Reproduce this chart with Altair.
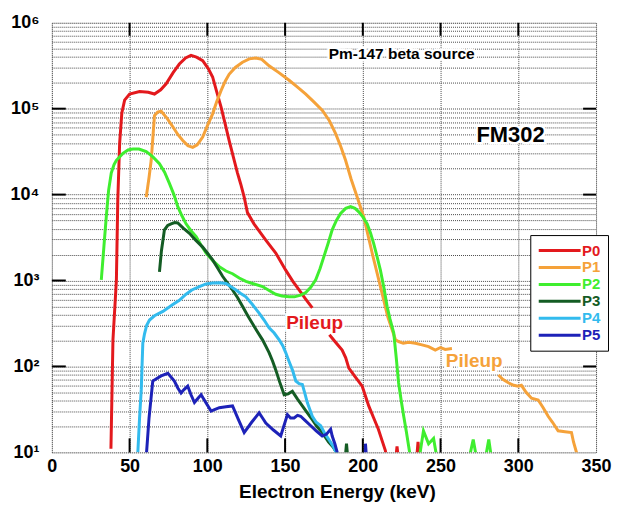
import altair as alt
import pandas as pd

series_names = ["P0", "P1", "P2", "P3", "P4", "P5"]
series_colors = ["#e3191d", "#f5a23a", "#3fee2f", "#145c24", "#33bbee", "#1d22b8"]

# ---- P0 ----
p0_main_x = [38, 39.3, 41.5, 42.4, 43.6, 45.0, 46.8, 50, 56.4, 62, 66, 70, 73.5, 78, 82, 86, 89.5, 93, 97,
             100.5, 103.4, 106, 108.8, 111.5, 114, 116.7, 119.4, 121.5, 123.7, 125.8, 130, 137.6, 144,
             150.4, 155, 159, 163, 167.5]
p0_main_y = [11, 204, 1000, 8510, 39800, 89100, 126000, 148000, 158000, 155000, 148000, 166000, 195000,
             263000, 331000, 389000, 417000, 398000, 363000, 295000, 234000, 158000, 105000, 66100, 42700,
             27500, 17800, 13200, 9330, 6170, 4570, 2950, 2090, 1320, 977, 776, 617, 479]
p0_tail_x = [178.5, 183, 186.7, 189, 191, 195, 199.6, 203.8, 207, 210, 212.5, 214.5, 215.5]
p0_tail_y = [234, 186, 155, 126, 95.5, 75.9, 58.9, 34.7, 25.1, 18.6, 13.5, 10.5, 7.9]
p0_s1_x = [221, 222, 223]
p0_s1_y = [7.9, 11.7, 7.9]
p0_s2_x = [234.5, 235.5, 236.5]
p0_s2_y = [7.9, 13.2, 7.9]

# ---- P1 ----
p1_main_x = [60.7, 62.5, 63.9, 66, 68, 70.3, 74, 77.8, 81, 84.2, 87.5, 90.6, 93.5, 97, 100, 103.4, 106,
             108.8, 111.5, 114, 118, 122.6, 127, 131.2, 135, 139.7, 146, 152.6, 158, 163.3, 168.5, 174,
             178.5, 182.5, 185.8, 188.9, 192.5, 196.4, 200.6, 206, 212.4, 216, 218.8, 221, 223, 226, 229.5,
             233.8, 238, 242.3, 246.6, 250, 253, 257.3]
p1_main_y = [9330, 15800, 25100, 83200, 91200, 93300, 77600, 61700, 50100, 42700, 37200, 35500, 38000,
             46800, 63100, 87100, 120000, 162000, 209000, 251000, 302000, 347000, 380000, 389000, 376000,
             316000, 263000, 214000, 178000, 148000, 120000, 95500, 72400, 51300, 36300, 25100, 15100,
             9330, 5500, 2090, 708, 380, 269, 204, 195, 186, 191, 186, 178, 170, 155, 166, 158, 162]
p1_tail_x = [287.2, 290, 293.6, 297, 300, 302, 305, 308.5, 312.8, 316, 319.2, 322, 325.6, 330, 334.2,
             335.5, 337.4, 338]
p1_tail_y = [79.4, 70.8, 64.6, 60.3, 58.9, 60.3, 50.1, 42.7, 40.7, 33.1, 26.3, 22.4, 17.8, 17.4, 17.0,
             13.2, 10, 7.9]

# ---- P2 ----
p2_main_x = [31.8, 33.5, 35, 36.5, 38.2, 40, 41.5, 45.7, 49, 52.1, 56, 60.7, 65, 69.2, 72.5, 75.6, 78.5,
             81, 83.5, 86.3, 89.5, 92.8, 96, 99.2, 103.5, 107.7, 112, 116.2, 120.5, 124.8, 130, 135.5, 140,
             144, 148, 152.6, 156, 160, 163.3, 166.5, 169.7, 172.5, 175, 177.8, 180.3, 183, 185.7, 189,
             192.1, 195, 197.4, 200, 202.8, 205, 207, 209, 211.3, 213.5, 215.6, 217.5, 219.9, 221.5, 223,
             224.7, 226.3, 228, 229.5, 231]
p2_main_y = [1020, 2510, 5500, 11200, 17800, 22400, 25100, 30200, 33100, 33900, 33900, 31600, 27500,
             22900, 18200, 13500, 10000, 7240, 5750, 4570, 3800, 3240, 2570, 2090, 1700, 1450, 1290, 1200,
             1070, 977, 912, 851, 759, 692, 661, 646, 646, 676, 724, 832, 1020, 1380, 1910, 2750, 3890,
             5010, 6030, 6920, 7240, 6920, 6310, 5500, 4570, 3550, 2690, 1950, 1320, 832, 501, 355, 245,
             126, 64.6, 39.8, 26.3, 17.4, 11.7, 7.9]
p2_s1_x = [236, 239, 242.3, 245.5, 248]
p2_s1_y = [7.9, 17.8, 12.6, 14.5, 7.9]
p2_s2_x = [268, 271, 273.5]
p2_s2_y = [7.9, 14.1, 7.9]
p2_s3_x = [278.5, 281, 283]
p2_s3_y = [7.9, 14.1, 7.9]

# ---- P3 ----
p3_main_x = [69.2, 70.5, 72.4, 74.5, 76.7, 79, 81, 84.5, 88.5, 92.5, 97, 100, 103.4, 106.5, 109.8, 113,
             116.2, 119.5, 122.6, 126, 129, 132, 135.5, 139.7, 142, 144, 146.5, 149.4, 152, 154.7, 158,
             161.1, 164.3, 167.5, 170.5, 173.9, 178, 181, 184.6]
p3_main_y = [1260, 2240, 3890, 4370, 4570, 4730, 4680, 4070, 3550, 2950, 2450, 2090, 1740, 1410, 1120,
             933, 776, 631, 501, 389, 316, 257, 204, 145, 115, 91.2, 66.1, 46.8, 47.9, 51.3, 41.7, 34.7,
             28.8, 24.0, 20.0, 17.0, 13.2, 11.5, 8.9]
p3_s1_x = [188.5, 189.5, 190.5]
p3_s1_y = [7.9, 12.6, 7.9]

# ---- P4 ----
p4_main_x = [55.3, 56.4, 57.5, 58.5, 59.6, 61, 62.8, 66, 71.4, 77.8, 82, 86.3, 90, 94.9, 99.2, 103.4, 108,
             112, 115, 118.4, 121.5, 124.8, 129, 133.3, 136.5, 139.7, 143, 146.2, 148.5, 150.4, 152.5,
             154.7, 156.9, 159, 161.1, 162.8, 164.3, 167.5, 170, 172.9, 175.5, 178.2, 181, 184]
p4_main_y = [10, 25, 53.7, 186, 240, 302, 347, 389, 437, 525, 589, 692, 776, 851, 912, 933, 944, 923, 851,
             776, 708, 646, 525, 417, 347, 282, 245, 204, 174, 145, 115, 91.2, 67.6, 63.1, 61.7, 47.9, 38.0,
             26.3, 22.4, 20.4, 16.6, 14.1, 11.7, 8.9]

# ---- P5 ----
p5_main_x = [60.5, 62.5, 64.9, 67.5, 70.3, 74.6, 78.8, 81, 83.1, 85, 87.4, 89.5, 91.7, 94, 96, 99, 102.4,
             105, 107.7, 112, 116.2, 120, 123.7, 128.5, 133.3, 135.5, 137.6, 142.5, 147.2, 151.5, 153.5,
             155.8, 158, 160, 163, 166.5, 170, 173.9, 176.5, 179.3, 180.3, 182, 183.5, 184]
p5_main_y = [7.9, 25.1, 67.6, 72.4, 77.6, 83.2, 67.6, 56.2, 49.0, 53.7, 58.9, 46.8, 38.0, 42.7, 46.8, 38.0,
             30.2, 31.6, 33.1, 33.9, 34.7, 24.0, 17.0, 22.4, 28.8, 25.1, 21.9, 18.2, 15.5, 27.5, 25.1, 25.1,
             26.9, 26.3, 23.4, 20.4, 17.8, 15.5, 16.2, 18.6, 15.5, 12.6, 10, 7.9]
p5_s1_x = [201, 201.7, 202.5]
p5_s1_y = [7.9, 12.6, 7.9]

segments = [
    ("P0", "P0-main", p0_main_x, p0_main_y), ("P0", "P0-tail", p0_tail_x, p0_tail_y),
    ("P0", "P0-s1", p0_s1_x, p0_s1_y), ("P0", "P0-s2", p0_s2_x, p0_s2_y),
    ("P1", "P1-main", p1_main_x, p1_main_y), ("P1", "P1-tail", p1_tail_x, p1_tail_y),
    ("P2", "P2-main", p2_main_x, p2_main_y), ("P2", "P2-s1", p2_s1_x, p2_s1_y),
    ("P2", "P2-s2", p2_s2_x, p2_s2_y), ("P2", "P2-s3", p2_s3_x, p2_s3_y),
    ("P3", "P3-main", p3_main_x, p3_main_y), ("P3", "P3-s1", p3_s1_x, p3_s1_y),
    ("P4", "P4-main", p4_main_x, p4_main_y),
    ("P5", "P5-main", p5_main_x, p5_main_y), ("P5", "P5-s1", p5_s1_x, p5_s1_y),
]

rows = []
for s, seg, xs, ys in segments:
    for i, (xv, yv) in enumerate(zip(xs, ys)):
        rows.append({"series": s, "seg": seg, "x": xv, "y": yv, "i": i})
df = pd.DataFrame(rows)

x_ticks = [0, 50, 100, 150, 200, 250, 300, 350]
y_ticks = [k * 10 ** d for d in range(1, 6) for k in range(1, 10)] + [1000000]
x_inner_ticks = [50, 100, 150, 200, 250, 300]
y_inner_ticks = [100, 1000, 10000, 100000]

ann_text = ["Pm-147 beta source", "FM302", "Pileup", "Pileup"]
ann_x = [225, 295, 169, 271.6]
ann_y = [437000, 49000, 324, 117]

W, H = 546, 431
FONT = "Liberation Sans"
GRID = "#4a4a4a"

x_scale = alt.Scale(domain=[0, 350], nice=False, zero=False)
y_scale = alt.Scale(type="log", domain=[10, 1000000], nice=False)

x_axis = alt.Axis(values=x_ticks, title="Electron Energy (keV)", grid=True, gridColor=GRID,
                  gridDash=[1, 1], gridWidth=1, gridOpacity=1, ticks=False, tickSize=0, domain=False,
                  labelFont=FONT, labelFontSize=18, labelFontWeight="bold", labelColor="black",
                  labelPadding=5, labelFlush=False, labelOverlap=False,
                  titleFont=FONT, titleFontSize=19, titleFontWeight="bold", titleColor="black",
                  titleX=286, titleY=45, titleBaseline="alphabetic")
label_expr = ("datum.value == 10 ? '10¹' : datum.value == 100 ? '10²' : datum.value == 1000 ? '10³' : "
              "datum.value == 10000 ? '10⁴' : datum.value == 100000 ? '10⁵' : "
              "datum.value == 1000000 ? '10⁶' : ''")
y_axis = alt.Axis(values=y_ticks, labelExpr=label_expr, title=None, grid=True, gridColor=GRID,
                  gridDash=[1, 1], gridWidth=1, gridOpacity=1, ticks=False, tickSize=0, domain=False,
                  labelFont=FONT, labelFontSize=18, labelFontWeight="bold", labelColor="black",
                  labelPadding=13, labelFlush=False, labelOverlap=False)

X = alt.X("x:Q", scale=x_scale, axis=x_axis)
Y = alt.Y("y:Q", scale=y_scale, axis=y_axis)

legend = alt.Legend(orient="none", legendX=480, legendY=213, title=None, symbolType="stroke",
                    symbolSize=1764, symbolStrokeWidth=3, clipHeight=17, rowPadding=0, labelOffset=0,
                    labelFont=FONT, labelFontSize=15, labelFontWeight="bold",
                    labelColor={"expr": "scale('color', datum.value)"},
                    padding=7, fillColor="white", strokeColor="black", cornerRadius=0)

lines = alt.Chart(df).mark_line(strokeWidth=3, clip=True).encode(
    x=X, y=Y,
    color=alt.Color("series:N", scale=alt.Scale(domain=series_names, range=series_colors), legend=legend),
    detail="seg:N",
    order="i:Q",
)

xt = pd.DataFrame({"x": x_inner_ticks})
yt = pd.DataFrame({"y": y_inner_ticks})
tick_bottom = alt.Chart(xt).mark_rule(color="black", strokeWidth=2).encode(
    x=X, y=alt.value(H), y2=alt.value(H - 14))
tick_top = alt.Chart(xt).mark_rule(color="black", strokeWidth=2).encode(
    x=X, y=alt.value(0), y2=alt.value(13))
tick_left = alt.Chart(yt).mark_rule(color="black", strokeWidth=2).encode(
    y=Y, x=alt.value(0), x2=alt.value(14))
tick_right = alt.Chart(yt).mark_rule(color="black", strokeWidth=2).encode(
    y=Y, x=alt.value(W), x2=alt.value(W - 13))


def annotation(idx, size, color):
    d = pd.DataFrame({"x": [ann_x[idx]], "y": [ann_y[idx]], "t": [ann_text[idx]]})
    halo = alt.Chart(d).mark_text(font=FONT, fontSize=size, fontWeight="bold", color="white",
                                  stroke="white", strokeWidth=5, align="center",
                                  baseline="middle").encode(x=X, y=Y, text="t:N")
    txt = alt.Chart(d).mark_text(font=FONT, fontSize=size, fontWeight="bold", color=color,
                                 align="center", baseline="middle").encode(x=X, y=Y, text="t:N")
    return [halo, txt]


anns = (annotation(0, 15.5, "black") + annotation(1, 22, "black") +
        annotation(2, 19, series_colors[0]) + annotation(3, 19, series_colors[1]))

chart = alt.layer(*anns, lines, tick_bottom, tick_top, tick_left, tick_right).properties(
    width=W, height=H,
    autosize=alt.AutoSizeParams(type="none"),
    padding={"left": 44, "top": 14, "right": 16, "bottom": 50},
).configure_view(stroke="black", strokeWidth=2.5).configure(background="white")

chart.save("out.html", embed_options={"renderer": "svg", "actions": False})
